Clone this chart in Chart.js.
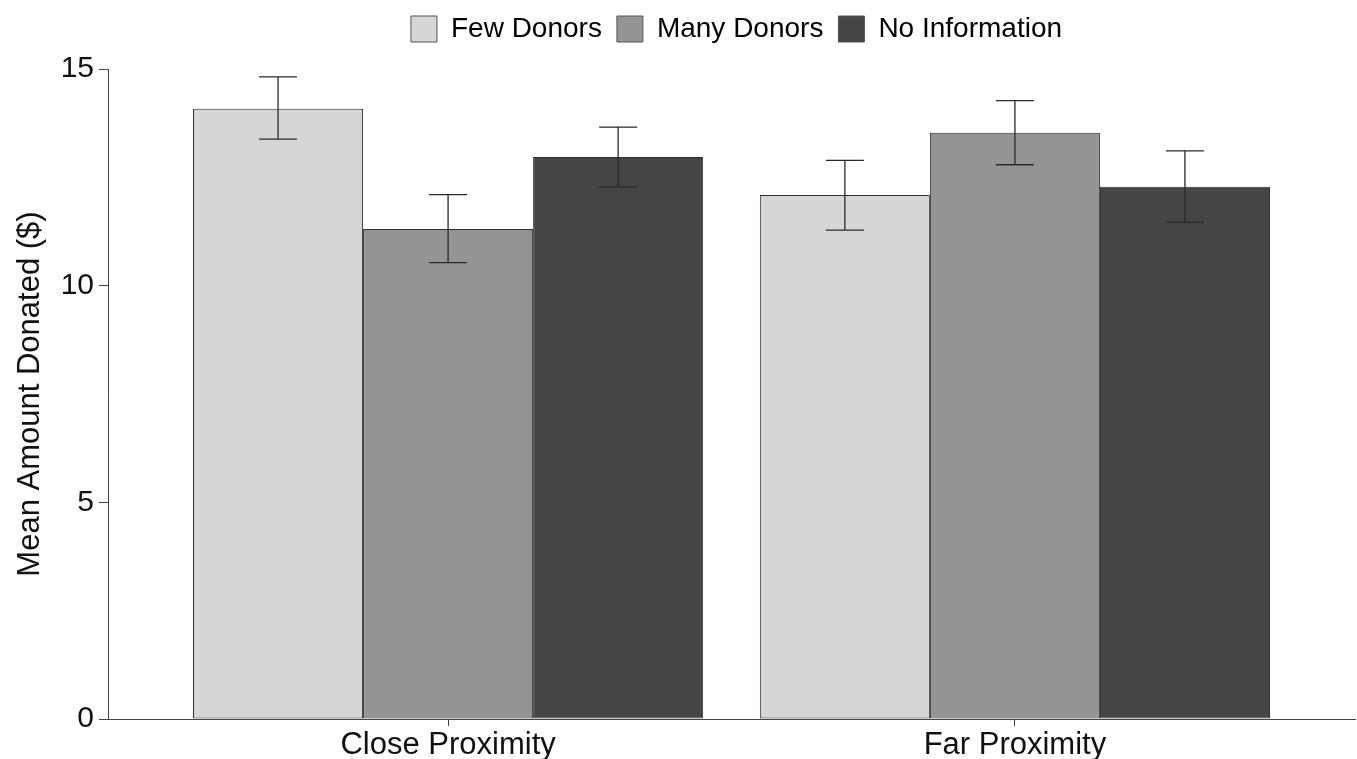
<!DOCTYPE html>
<html>
<head>
<meta charset="utf-8">
<script src="https://cdn.jsdelivr.net/npm/chart.js@4/dist/chart.umd.min.js"></script>
<style>
  html, body { margin: 0; padding: 0; background: #fff; }
  #wrap { width: 1357px; height: 759px; }
</style>
</head>
<body>
<div id="wrap"><canvas id="c" width="1357" height="759"></canvas></div>
<script>
// Mean donation ($) by proximity and donor-information condition, with error bars
const categories = ['Close Proximity', 'Far Proximity'];

const fewDonors     = [14.08, 12.09];
const fewDonorsLow  = [13.38, 11.28];
const fewDonorsHigh = [14.82, 12.89];

const manyDonors     = [11.31, 13.53];
const manyDonorsLow  = [10.53, 12.79];
const manyDonorsHigh = [12.10, 14.27];

const noInfo     = [12.97, 12.28];
const noInfoLow  = [12.28, 11.46];
const noInfoHigh = [13.66, 13.11];

const yTicks = [0, 5, 10, 15];

const FONT = '"Liberation Sans", Arial, Helvetica, sans-serif';

// categories sit at x = 1, 2 on a linear axis so the outer margins can be set freely
const toPoints = vals => vals.map((v, i) => ({ x: i + 1, y: v }));

function series(label, vals, low, high, color) {
  return {
    label,
    data: toPoints(vals),
    errLow: low,
    errHigh: high,
    backgroundColor: color,
    borderColor: '#2e2e2e',
    borderWidth: 1,
    borderSkipped: false,
    categoryPercentage: 0.9,
    barPercentage: 1.0
  };
}

// vertical error bars with caps, drawn on top of the bars
const errorBars = {
  id: 'errorBars',
  afterDatasetsDraw(chart) {
    const ctx = chart.ctx;
    const yScale = chart.scales.y;
    ctx.save();
    ctx.strokeStyle = '#2a2a2a';
    ctx.lineWidth = 1.3;
    chart.data.datasets.forEach((ds, di) => {
      const meta = chart.getDatasetMeta(di);
      meta.data.forEach((bar, i) => {
        const x = bar.x;
        const yH = yScale.getPixelForValue(ds.errHigh[i]);
        const yL = yScale.getPixelForValue(ds.errLow[i]);
        const half = 19;
        ctx.beginPath();
        ctx.moveTo(x, yH); ctx.lineTo(x, yL);
        ctx.moveTo(x - half, yH); ctx.lineTo(x + half, yH);
        ctx.moveTo(x - half, yL); ctx.lineTo(x + half, yL);
        ctx.stroke();
      });
    });
    ctx.restore();
  }
};

// extra room under the legend row, and a small nudge to centre it over the panel
const legendGap = {
  id: 'legendGap',
  beforeLayout(chart) {
    const lg = chart.legend;
    if (lg && !lg._gapAdded) {
      const fit = lg.fit;
      lg.fit = function () {
        fit.call(this);
        this.height += 16;
      };
      lg._gapAdded = true;
    }
  },
  afterLayout(chart) {
    const lg = chart.legend;
    if (lg) {
      lg.left += 5;
      lg.right += 5;
    }
  }
};

new Chart(document.getElementById('c'), {
  type: 'bar',
  data: {
    datasets: [
      series('Few Donors', fewDonors, fewDonorsLow, fewDonorsHigh, '#d6d6d6'),
      series('Many Donors', manyDonors, manyDonorsLow, manyDonorsHigh, '#949494'),
      series('No Information', noInfo, noInfoLow, noInfoHigh, '#454545')
    ]
  },
  options: {
    responsive: false,
    animation: false,
    devicePixelRatio: 1,
    layout: { padding: { top: 0, right: 2, left: 0, bottom: 0 } },
    plugins: {
      tooltip: { enabled: false },
      legend: {
        position: 'top',
        fullSize: false,
        labels: {
          font: { family: FONT, size: 28 },
          color: '#111',
          boxWidth: 26,
          boxHeight: 26,
          padding: 15,
          generateLabels(chart) {
            return chart.data.datasets.map((ds, i) => ({
              text: ds.label,
              fillStyle: ds.backgroundColor,
              strokeStyle: '#555555',
              lineWidth: 1,
              datasetIndex: i
            }));
          }
        }
      }
    },
    scales: {
      x: {
        type: 'linear',
        min: 0.4,
        max: 2.6,
        offset: false,
        afterBuildTicks(scale) {
          scale.ticks = categories.map((_, i) => ({ value: i + 1 }));
        },
        afterFit(scale) { scale.height = 40; },
        ticks: {
          font: { family: FONT, size: 31 },
          color: '#111',
          padding: 1,
          maxRotation: 0,
          autoSkip: false,
          callback: v => categories[v - 1]
        },
        grid: {
          offset: false,
          drawOnChartArea: false,
          drawTicks: true,
          tickLength: 7,
          color: '#444'
        },
        border: { display: true, color: '#444', width: 1 }
      },
      y: {
        min: 0,
        max: 15,
        afterBuildTicks(scale) {
          scale.ticks = yTicks.map(v => ({ value: v }));
        },
        afterFit(scale) { scale.width = 108; },
        ticks: {
          font: { family: FONT, size: 30 },
          color: '#111',
          padding: 5
        },
        grid: {
          drawOnChartArea: false,
          drawTicks: true,
          tickLength: 9,
          color: '#444'
        },
        border: { display: true, color: '#444', width: 1 },
        title: {
          display: true,
          text: 'Mean Amount Donated ($)',
          font: { family: FONT, size: 31 },
          color: '#111',
          padding: { top: 12, bottom: 0 }
        }
      }
    }
  },
  plugins: [errorBars, legendGap]
});
</script>
</body>
</html>
